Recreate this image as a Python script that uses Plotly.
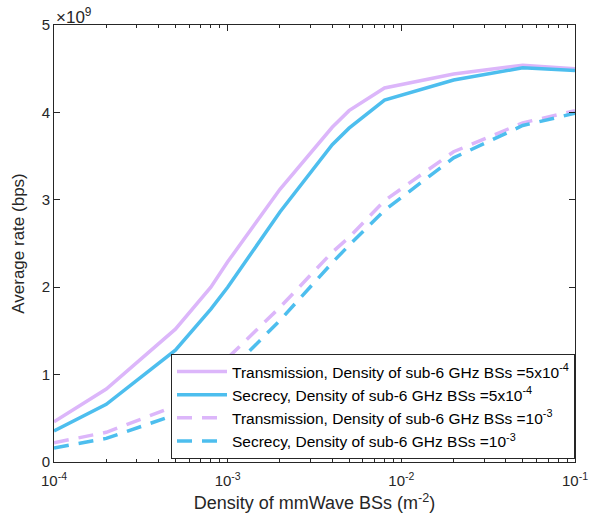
import plotly.graph_objects as go

x_density = [1e-4, 2e-4, 5e-4, 8e-4, 1e-3, 2e-3, 4e-3, 5e-3, 8e-3, 2e-2, 5e-2, 1e-1]

trans_5e4 = [0.46, 0.835, 1.52, 2.0, 2.29, 3.12, 3.83, 4.02, 4.28, 4.44, 4.54, 4.50]
secr_5e4 = [0.355, 0.66, 1.28, 1.75, 2.0, 2.86, 3.63, 3.82, 4.14, 4.37, 4.51, 4.48]
trans_1e3 = [0.22, 0.34, 0.64, 0.98, 1.19, 1.77, 2.40, 2.57, 2.99, 3.55, 3.88, 4.02]
secr_1e3 = [0.16, 0.27, 0.54, 0.80, 1.02, 1.62, 2.28, 2.48, 2.88, 3.48, 3.85, 3.99]

names = [
    "Transmission, Density of sub-6 GHz BSs =5x10<sup>-4</sup>",
    "Secrecy, Density of sub-6 GHz BSs =5x10<sup>-4</sup>",
    "Transmission, Density of sub-6 GHz BSs =10<sup>-3</sup>",
    "Secrecy, Density of sub-6 GHz BSs =10<sup>-3</sup>",
]
series = [trans_5e4, secr_5e4, trans_1e3, secr_1e3]
colors = ["#DCB6FA", "#4DBEEE", "#DCB6FA", "#4DBEEE"]
dashes = ["solid", "solid", "15px,10px", "15px,10px"]

x_tickvals = [1e-4, 1e-3, 1e-2, 1e-1]
x_ticktext = ["10<sup>-4</sup>", "10<sup>-3</sup>", "10<sup>-2</sup>", "10<sup>-1</sup>"]
y_tickvals = [0, 1, 2, 3, 4, 5]

minor_vals = [m * 10 ** e for e in (-4, -3, -2) for m in range(2, 10)]

fig = go.Figure()
for name, vals, c, d in zip(names, series, colors, dashes):
    fig.add_trace(go.Scatter(
        x=x_density, y=vals, mode="lines", name=name,
        line=dict(color=c, width=3.5, dash=d),
    ))

FONT = "Liberation Sans, Arial, sans-serif"

fig.update_layout(
    width=589, height=524,
    margin=dict(l=54, r=14, t=25, b=62),
    paper_bgcolor="white", plot_bgcolor="white",
    font=dict(family=FONT, size=15, color="#262626"),
    showlegend=True,
    legend=dict(
        x=1, y=0.007, xanchor="right", yanchor="bottom",
        bgcolor="white", bordercolor="#262626", borderwidth=1,
        font=dict(family=FONT, size=15.5, color="#000000"),
        tracegroupgap=0, itemwidth=50,
    ),
    xaxis=dict(
        type="log", range=[-4, -1], automargin=False,
        tickvals=x_tickvals, ticktext=x_ticktext,
        ticks="inside", ticklen=6, tickcolor="#262626",
        showline=True, linecolor="#262626", linewidth=1, mirror="ticks",
        showgrid=False, zeroline=False, ticklabelstandoff=5,
        minor=dict(tickvals=minor_vals, ticks="inside", ticklen=3, tickcolor="#262626", showgrid=False),
        title=dict(text="Density of mmWave BSs (m<sup>-2</sup>)", font=dict(size=18), standoff=8),
        tickfont=dict(size=15),
    ),
    yaxis=dict(
        range=[0, 5], tickvals=y_tickvals, automargin=False,
        ticks="inside", ticklen=6, tickcolor="#262626",
        showline=True, linecolor="#262626", linewidth=1, mirror="ticks",
        showgrid=False, zeroline=False,
        title=dict(text="Average rate (bps)", font=dict(size=17), standoff=12),
        tickfont=dict(size=15),
    ),
    annotations=[dict(
        text="\u00d710<sup>9</sup>", xref="paper", yref="paper", x=0, y=1,
        xanchor="left", yanchor="bottom", showarrow=False,
        font=dict(size=17, color="#262626"), xshift=0, yshift=-4,
    )],
)

fig.write_html("out.html", config={"displayModeBar": False},
               post_script="document.body.style.margin='0';")
